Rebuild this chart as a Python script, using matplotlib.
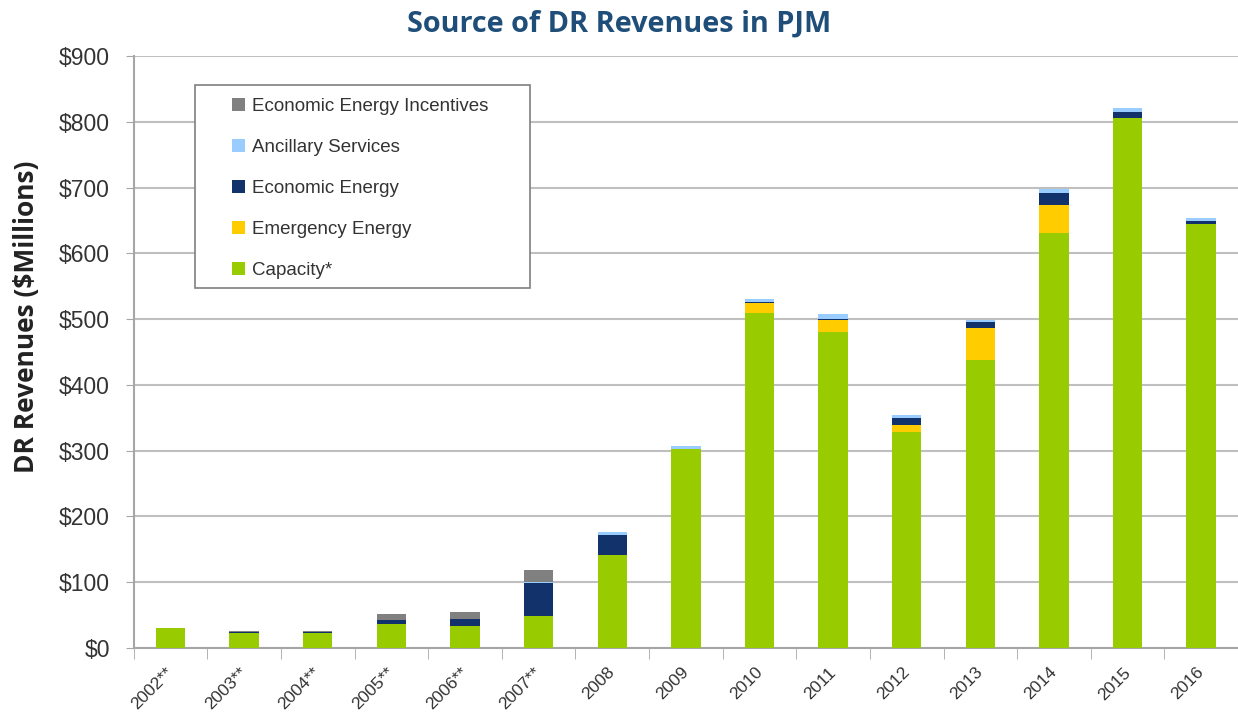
import matplotlib.pyplot as plt
import matplotlib.transforms as mtransforms
from matplotlib.patches import Rectangle
import numpy as np

# values in $ millions
years = ["2002**", "2003**", "2004**", "2005**", "2006**", "2007**", "2008",
         "2009", "2010", "2011", "2012", "2013", "2014", "2015", "2016"]
capacity = [30, 23, 23, 36, 34, 48, 142, 302, 510, 481, 329, 438, 631, 806, 645]
emergency = [0, 0, 0, 1, 0, 1, 0, 0, 14, 17, 10, 49, 42, 0, 0]
economic = [0, 2, 2, 6, 10, 50, 29, 0, 2, 2, 10, 8, 18, 9, 4]
ancillary = [0, 0, 0, 0, 0, 2, 5, 5, 5, 8, 5, 3, 7, 6, 4]
incentives = [1, 1, 1, 9, 11, 17, 0, 0, 0, 0, 0, 0, 0, 0, 0]

series = [
    ("Capacity*", capacity, "#99CC00"),
    ("Emergency Energy", emergency, "#FFCC00"),
    ("Economic Energy", economic, "#12326B"),
    ("Ancillary Services", ancillary, "#99CCFF"),
    ("Economic Energy Incentives", incentives, "#808080"),
]

fig = plt.figure(figsize=(12.38, 7.13), dpi=100)
ax = fig.add_axes([0.108, 0.0912, 0.892, 0.8303])

x = np.arange(len(years))
bottom = np.zeros(len(years))
handles = []
for name, vals, color in series:
    b = ax.bar(x, vals, 0.4, bottom=bottom, color=color, label=name, zorder=3)
    handles.append(b)
    bottom += np.array(vals)

ax.set_xlim(-0.5, len(years) - 0.5)
ax.set_ylim(0, 900)
ax.set_yticks(np.arange(0, 901, 100))
ax.set_yticklabels(["$%d" % v for v in range(0, 901, 100)],
                   fontsize=16.5, family="Liberation Sans", color="#333333")
ax.yaxis.grid(True, color="#BFBFBF", linewidth=1.5, zorder=0)
ax.tick_params(axis="y", length=6, color="#A6A6A6", pad=11)

ax.set_xticks(x)
ax.set_xticklabels(years, rotation=45, ha="right", va="top",
                   rotation_mode="anchor", fontsize=12.5,
                   family="Liberation Sans", color="#333333")
ax.tick_params(axis="x", which="major", length=0, pad=12)
ax.set_xticks(np.arange(-0.5, len(years)), minor=True)
ax.tick_params(axis="x", which="minor", length=8, color="#A6A6A6")
shift = mtransforms.ScaledTranslation(-5 / 100, 0, fig.dpi_scale_trans)
for lbl in ax.get_xticklabels():
    lbl.set_transform(lbl.get_transform() + shift)

for s in ["top", "right"]:
    ax.spines[s].set_visible(False)
for s in ["left", "bottom"]:
    ax.spines[s].set_color("#A6A6A6")
    ax.spines[s].set_linewidth(1.5)

ax.set_ylabel("DR Revenues ($Millions)", fontsize=19, fontweight="bold",
              family="Open Sans", color="#222222")
ax.yaxis.set_label_coords(-0.085, 0.56)

fig.suptitle("Source of DR Revenues in PJM", x=0.5, y=0.987,
             fontsize=20.8, fontweight="bold", family="Open Sans",
             color="#1F4E79")

# legend box drawn by hand so its padding can match
fig.patches.append(Rectangle((195 / 1238, 1 - 288 / 713), 335 / 1238, 203 / 713,
                             transform=fig.transFigure, facecolor="white",
                             edgecolor="#7F7F7F", linewidth=1.2, zorder=4))
leg = fig.legend(handles[::-1], [s[0] for s in series][::-1],
                 loc="upper left", bbox_to_anchor=(232 / 1238, 1 - 98 / 713),
                 prop={"family": "Liberation Sans", "size": 13.5},
                 frameon=False,
                 handlelength=0.7, handleheight=0.7, handletextpad=0.35,
                 labelspacing=1.27, borderpad=0, borderaxespad=0)
leg.set_zorder(5)
for t in leg.get_texts():
    t.set_color("#333333")

fig.savefig("out.png", dpi=100)
